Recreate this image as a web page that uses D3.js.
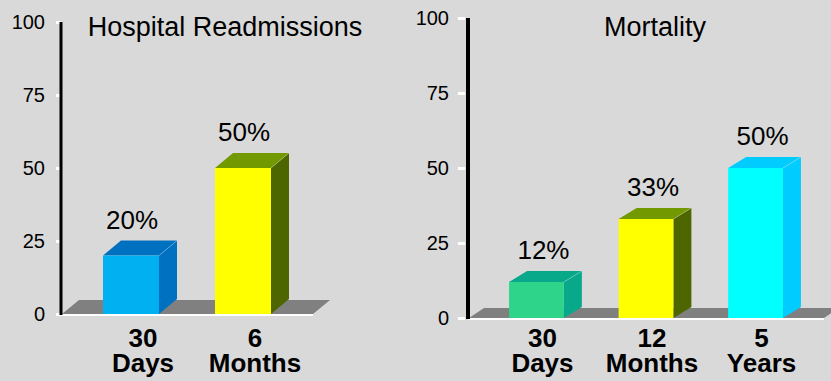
<!DOCTYPE html>
<html>
<head>
<meta charset="utf-8">
<script src="https://cdn.jsdelivr.net/npm/d3@7"></script>
<style>
  body { margin: 0; background: #d9d9d9; }
  svg { display: block; font-family: "Liberation Sans", Arial, sans-serif; }
</style>
</head>
<body>
<div id="chart"></div>
<script>
const width = 831;
const height = 381;

// data
const yTicks = [0, 25, 50, 75, 100];

const readmitTitle = "Hospital Readmissions";
const readmitCats = [["30", "Days"], ["6", "Months"]];
const readmitValues = [20, 50];
const readmitFront = ["#00b0f0", "#ffff00"];
const readmitTop = ["#0070c0", "#739900"];
const readmitSide = ["#0070c0", "#4d6600"];

const mortTitle = "Mortality";
const mortCats = [["30", "Days"], ["12", "Months"], ["5", "Years"]];
const mortValues = [12, 33, 50];
const mortFront = ["#2ed48a", "#ffff00", "#00ffff"];
const mortTop = ["#08a88a", "#739900", "#00ccff"];
const mortSide = ["#08a88a", "#4d6600", "#00ccff"];

const svg = d3.select("#chart")
  .append("svg")
  .attr("width", width)
  .attr("height", height);

svg.append("rect").attr("width", width).attr("height", height).attr("fill", "#d9d9d9");

function panel(o) {
  const g = svg.append("g");
  const y = d3.scaleLinear().domain([0, 100]).range([o.y0, o.y100]);
  const x = d3.scaleBand()
    .domain(o.cats.map((d, i) => i))
    .range([o.axisX, o.floorEnd])
    .paddingInner(0.5)
    .paddingOuter(0.375);

  // floor
  const f = o.floor;
  g.append("path")
    .attr("d", `M${o.axisX + 1},${o.y0} L${o.floorEnd},${o.y0} L${o.floorEnd + f.dx},${o.y0 - f.dy} L${o.axisX + 1 + f.dx},${o.y0 - f.dy}Z`)
    .attr("fill", "#808080");

  // bars
  const bars = g.selectAll(".bar")
    .data(o.values)
    .enter()
    .append("g")
    .attr("class", "bar");

  const dx = o.depth.dx, dy = o.depth.dy;
  bars.append("path")
    .attr("d", (d, i) => {
      const x1 = x(i) + x.bandwidth();
      return `M${x1},${y(d)} L${x1 + dx},${y(d) - dy} L${x1 + dx},${o.y0 - dy} L${x1},${o.y0}Z`;
    })
    .attr("fill", (d, i) => o.side[i]);
  bars.append("path")
    .attr("d", (d, i) => {
      const x0 = x(i), x1 = x(i) + x.bandwidth();
      return `M${x0},${y(d)} L${x0 + dx},${y(d) - dy} L${x1 + dx},${y(d) - dy} L${x1},${y(d)}Z`;
    })
    .attr("fill", (d, i) => o.top[i]);
  bars.append("line")
    .attr("x1", (d, i) => x(i) + x.bandwidth())
    .attr("y1", d => y(d))
    .attr("x2", (d, i) => x(i) + x.bandwidth() + dx)
    .attr("y2", d => y(d) - dy)
    .attr("stroke", "#ffffff")
    .attr("stroke-opacity", 0.25)
    .attr("stroke-width", 1);
  bars.append("rect")
    .attr("x", (d, i) => x(i))
    .attr("y", d => y(d))
    .attr("width", x.bandwidth())
    .attr("height", d => o.y0 - y(d))
    .attr("fill", (d, i) => o.front[i]);

  bars.append("text")
    .attr("x", (d, i) => x(i) + x.bandwidth() / 2 + o.labelShift)
    .attr("y", d => y(d) - dy - 12)
    .attr("text-anchor", "middle")
    .attr("font-size", 26)
    .attr("fill", "#000")
    .text(d => d + "%");

  // front edge of floor
  g.append("line")
    .attr("x1", o.axisX)
    .attr("x2", o.floorEnd)
    .attr("y1", o.y0 + 1)
    .attr("y2", o.y0 + 1)
    .attr("stroke", "#ffffff")
    .attr("stroke-width", 2);

  // y axis
  const axis = g.append("g")
    .attr("transform", `translate(${o.axisX - o.tickGap},0)`)
    .call(d3.axisLeft(y).tickValues(yTicks).tickSize(o.tickLen).tickPadding(o.tickPad));
  axis.select(".domain").remove();
  axis.selectAll(".tick line").attr("stroke", "#ffffff").attr("stroke-width", 3);
  axis.selectAll(".tick text")
    .attr("font-size", 20)
    .attr("font-family", "Liberation Sans, Arial, sans-serif")
    .attr("fill", "#000");

  g.append("line")
    .attr("x1", o.axisX)
    .attr("x2", o.axisX)
    .attr("y1", o.y100)
    .attr("y2", o.y0 + 1)
    .attr("stroke", "#000")
    .attr("stroke-width", o.axisW);

  // category labels, two lines each
  const cat = g.selectAll(".cat")
    .data(o.cats)
    .enter()
    .append("text")
    .attr("class", "cat")
    .attr("text-anchor", "middle")
    .attr("font-size", 26)
    .attr("font-weight", "bold")
    .attr("fill", "#000");
  cat.append("tspan")
    .attr("x", (d, i) => x(i) + x.bandwidth() / 2 + o.catShift)
    .attr("y", 347)
    .text(d => d[0]);
  cat.append("tspan")
    .attr("x", (d, i) => x(i) + x.bandwidth() / 2 + o.catShift)
    .attr("y", 372)
    .text(d => d[1]);

  g.append("text")
    .attr("x", o.titleX)
    .attr("y", 36)
    .attr("text-anchor", "middle")
    .attr("font-size", o.titleSize)
    .attr("fill", "#000")
    .text(o.title);
}

panel({
  title: readmitTitle, titleX: 225, titleSize: 27,
  cats: readmitCats, values: readmitValues,
  front: readmitFront, top: readmitTop, side: readmitSide,
  axisX: 61, floorEnd: 313, y0: 314, y100: 22,
  depth: { dx: 18, dy: 15 }, floor: { dx: 17, dy: 14 },
  labelShift: 1, catShift: 12,
  tickGap: 0, tickLen: 5, tickPad: 11, axisW: 3
});

panel({
  title: mortTitle, titleX: 655, titleSize: 27,
  cats: mortCats, values: mortValues,
  front: mortFront, top: mortTop, side: mortSide,
  axisX: 468, floorEnd: 824, y0: 318, y100: 18,
  depth: { dx: 18, dy: 11 }, floor: { dx: 15, dy: 10 },
  labelShift: 7, catShift: 6,
  tickGap: 3, tickLen: 7, tickPad: 9, axisW: 4
});
</script>
</body>
</html>
